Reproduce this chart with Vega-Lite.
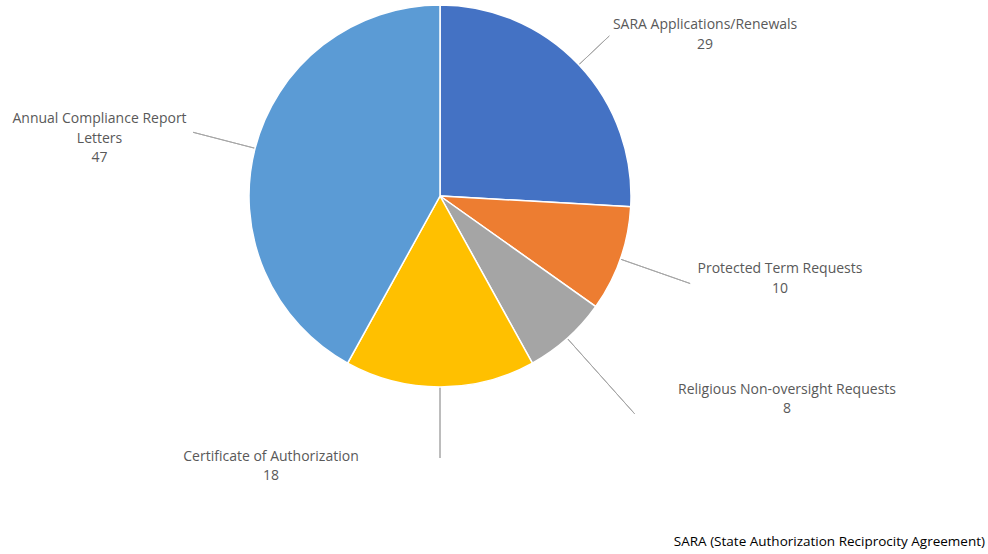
{
  "$schema": "https://vega.github.io/schema/vega-lite/v6.json",
  "width": 880,
  "height": 392,
  "autosize": {"type": "none"},
  "padding": {"left": 0, "top": 0, "right": 108, "bottom": 162},
  "background": "white",
  "config": {"view": {"stroke": null}, "text": {"font": "Open Sans"}},
  "title": {
    "text": "SARA  (State Authorization Reciprocity Agreement)",
    "orient": "bottom",
    "anchor": "end",
    "frame": "group",
    "dx": 105,
    "offset": 52,
    "baseline": "top",
    "font": "Open Sans",
    "fontSize": 13.5,
    "fontWeight": "normal",
    "color": "#000000"
  },
  "data": {
    "values": [
      {"idx": 1, "category": "SARA Applications/Renewals", "count": 29},
      {"idx": 2, "category": "Protected Term Requests", "count": 10},
      {"idx": 3, "category": "Religious Non-oversight Requests", "count": 8},
      {"idx": 4, "category": "Certificate of Authorization", "count": 18},
      {"idx": 5, "category": "Annual Compliance Report\nLetters", "count": 47}
    ]
  },
  "encoding": {
    "theta": {"field": "count", "type": "quantitative", "stack": true},
    "order": {"field": "idx", "type": "quantitative"},
    "detail": {"field": "category", "type": "nominal"}
  },
  "layer": [
    {
      "mark": {
        "type": "arc",
        "innerRadius": 191,
        "outerRadius": {"expr": "[0,233,265,292,262,255][datum.idx]"},
        "padAngle": 3.14,
        "fillOpacity": 0,
        "stroke": "#A6A6A6",
        "strokeWidth": 1
      }
    },
    {
      "mark": {"type": "arc", "outerRadius": 191, "stroke": "white", "strokeWidth": 1.5},
      "encoding": {
        "color": {
          "field": "category",
          "type": "nominal",
          "scale": {
            "domain": ["SARA Applications/Renewals", "Protected Term Requests", "Religious Non-oversight Requests", "Certificate of Authorization", "Annual Compliance Report\nLetters"],
            "range": ["#4472C4", "#ED7D31", "#A5A5A5", "#FFC000", "#5B9BD5"]
          },
          "legend": null
        }
      }
    },
    {
      "mark": {
        "type": "text",
        "radius": 250,
        "align": "center",
        "baseline": "alphabetic",
        "lineBreak": "\n",
        "lineHeight": 19.5,
        "fontSize": 14,
        "color": "#595959",
        "dx": {"expr": "[0,83.4,104,180.4,-169,-98.4][datum.idx]"},
        "dy": {"expr": "[0,4.8,-5.6,11.6,15,-10.3][datum.idx]"}
      },
      "encoding": {"text": {"field": "category", "type": "nominal"}}
    },
    {
      "mark": {
        "type": "text",
        "radius": 250,
        "align": "center",
        "baseline": "alphabetic",
        "fontSize": 14,
        "color": "#595959",
        "dx": {"expr": "[0,83.4,104,180.4,-169,-98.4][datum.idx]"},
        "dy": {"expr": "[0,24.8,14.4,30.6,33.5,28.4][datum.idx]"}
      },
      "encoding": {"text": {"field": "count", "type": "quantitative"}}
    }
  ]
}
